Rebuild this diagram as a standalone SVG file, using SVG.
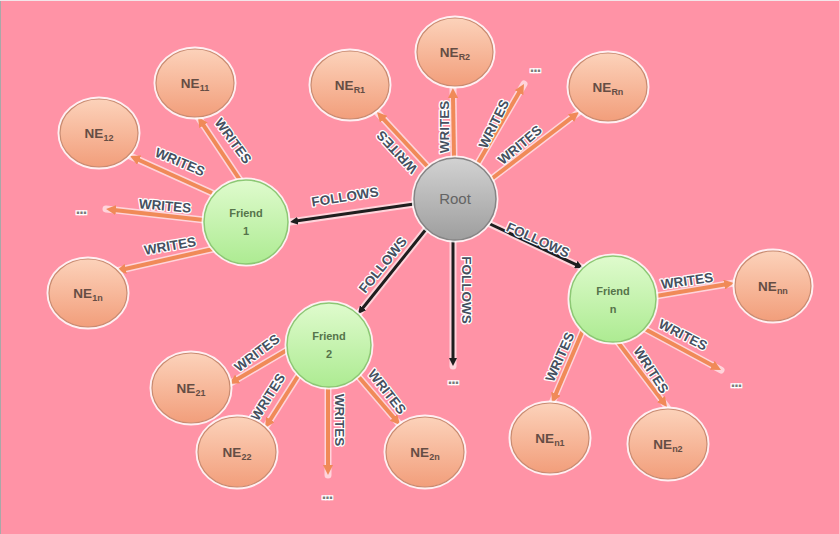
<svg xmlns="http://www.w3.org/2000/svg" width="839" height="534" viewBox="0 0 839 534">
<defs>
<linearGradient id="gNE" x1="0" y1="0" x2="0" y2="1"><stop offset="0" stop-color="#FCD2BA"/><stop offset="1" stop-color="#F29E7B"/></linearGradient>
<linearGradient id="gFr" x1="0" y1="0" x2="0" y2="1"><stop offset="0" stop-color="#DFFBCD"/><stop offset="1" stop-color="#ADEB92"/></linearGradient>
<linearGradient id="gRoot" x1="0" y1="0" x2="0" y2="1"><stop offset="0" stop-color="#D2D2D2"/><stop offset="1" stop-color="#9E9E9E"/></linearGradient>
<marker id="mO" viewBox="0 0 10 10" markerUnits="userSpaceOnUse" markerWidth="10" markerHeight="10" refX="2" refY="5" orient="auto"><path d="M0,0 L10,5 L0,10 z" fill="#F08A58"/></marker>
<marker id="mB" viewBox="0 0 8 8" markerUnits="userSpaceOnUse" markerWidth="8" markerHeight="8" refX="2" refY="4" orient="auto"><path d="M0,0 L8,4 L0,8 z" fill="#1E1E1E"/></marker>
<style>
.halo{fill:none;stroke:#fff;stroke-width:7;stroke-opacity:0.6;stroke-linecap:round}
.w{fill:none;stroke:#F08A58;stroke-width:4;marker-end:url(#mO)}
.f{fill:none;stroke:#1E1E1E;stroke-width:3;marker-end:url(#mB)}
.lbl{font-family:"Liberation Sans",Arial,sans-serif;font-weight:bold;font-size:13.5px;fill:#46505F;stroke:#fff;stroke-width:2.5px;paint-order:stroke;stroke-linejoin:round;text-anchor:middle;dominant-baseline:central}
.dots{font-family:"Liberation Sans",Arial,sans-serif;font-weight:bold;font-size:16px;fill:#7A7A7A;stroke:#fff;stroke-width:2.5px;paint-order:stroke;text-anchor:middle;letter-spacing:-1px}
.ring{fill:none;stroke:#fff;stroke-width:5;stroke-opacity:0.85}
.ne{fill:url(#gNE);stroke:#C98B70;stroke-width:1.2}
.fr{fill:url(#gFr);stroke:#8CC874;stroke-width:1.5}
.rt{fill:url(#gRoot);stroke:#858585;stroke-width:1.5}
.net{font-family:"Liberation Sans",Arial,sans-serif;font-size:13.5px;font-weight:bold;fill:#654D44;text-anchor:middle}
.sub{font-size:9px}
.frt{font-family:"Liberation Sans",Arial,sans-serif;font-size:11px;font-weight:bold;fill:#56744B;text-anchor:middle}
.rtt{font-family:"Liberation Sans",Arial,sans-serif;font-size:15px;fill:#646464;text-anchor:middle}
</style>
</defs>
<rect x="0" y="0" width="839" height="534" fill="#FF93A6"/>
<line x1="0.5" y1="0" x2="0.5" y2="534" stroke="#A8A8A8" stroke-width="1"/>
<line x1="0" y1="0.5" x2="839" y2="0.5" stroke="#F3E6EA" stroke-width="1"/>

<g id="connectors">
  <g id="halos">
    <line class="halo" x1="414" y1="204" x2="290" y2="222"/>
    <line class="halo" x1="427" y1="228" x2="358" y2="314"/>
    <line class="halo" x1="453" y1="240" x2="453" y2="366"/>
    <line class="halo" x1="490" y1="224" x2="583" y2="268"/>
    <line class="halo" x1="428" y1="167" x2="377" y2="112"/>
    <line class="halo" x1="454" y1="158" x2="453" y2="88"/>
    <line class="halo" x1="478" y1="163" x2="524" y2="84"/>
    <line class="halo" x1="490" y1="180" x2="579" y2="112"/>
    <line class="halo" x1="240" y1="180" x2="198" y2="117"/>
    <line class="halo" x1="212" y1="193" x2="130" y2="156"/>
    <line class="halo" x1="204" y1="220" x2="106" y2="209"/>
    <line class="halo" x1="213" y1="249" x2="116" y2="271"/>
    <line class="halo" x1="287" y1="350" x2="229" y2="384"/>
    <line class="halo" x1="298" y1="376" x2="265" y2="428"/>
    <line class="halo" x1="328" y1="387" x2="328" y2="475"/>
    <line class="halo" x1="358" y1="376" x2="400" y2="425"/>
    <line class="halo" x1="656" y1="296" x2="734" y2="283"/>
    <line class="halo" x1="643" y1="328" x2="721" y2="370"/>
    <line class="halo" x1="617" y1="341" x2="667" y2="407"/>
    <line class="halo" x1="583" y1="330" x2="552" y2="403"/>
  </g>
  <line class="f" x1="414" y1="204" x2="295.9" y2="221.1"/>
  <line class="f" x1="427" y1="228" x2="361.8" y2="309.3"/>
  <line class="f" x1="453" y1="240" x2="453" y2="360"/>
  <line class="f" x1="490" y1="224" x2="577.6" y2="265.4"/>
  <line class="w" x1="428" y1="167" x2="382.4" y2="117.9"/>
  <line class="w" x1="454" y1="158" x2="453" y2="96"/>
  <line class="w" x1="478" y1="163" x2="520" y2="90.9"/>
  <line class="w" x1="490" y1="180" x2="572.6" y2="116.9"/>
  <line class="w" x1="240" y1="180" x2="202.4" y2="123.7"/>
  <line class="w" x1="212" y1="193" x2="137.3" y2="159.3"/>
  <line class="w" x1="204" y1="220" x2="114" y2="209.9"/>
  <line class="w" x1="213" y1="249" x2="123.8" y2="269.2"/>
  <line class="w" x1="287" y1="350" x2="235.9" y2="380"/>
  <line class="w" x1="298" y1="376" x2="269.3" y2="421.2"/>
  <line class="w" x1="328" y1="387" x2="328" y2="467"/>
  <line class="w" x1="358" y1="376" x2="394.8" y2="418.9"/>
  <line class="w" x1="656" y1="296" x2="726.1" y2="284.3"/>
  <line class="w" x1="643" y1="328" x2="714" y2="366.2"/>
  <line class="w" x1="617" y1="341" x2="662.2" y2="400.6"/>
  <line class="w" x1="583" y1="330" x2="555.1" y2="395.6"/>
  <g id="edge-labels">
    <text class="lbl" transform="translate(345,197) rotate(-9)">FOLLOWS</text>
    <text class="lbl" transform="translate(383,265) rotate(-51)">FOLLOWS</text>
    <text class="lbl" transform="translate(466,290) rotate(90)">FOLLOWS</text>
    <text class="lbl" transform="translate(538,240) rotate(24)">FOLLOWS</text>
    <text class="lbl" transform="translate(233,141) rotate(54)">WRITES</text>
    <text class="lbl" transform="translate(180,162) rotate(23)">WRITES</text>
    <text class="lbl" transform="translate(165,206) rotate(5)">WRITES</text>
    <text class="lbl" transform="translate(170,246) rotate(-10)">WRITES</text>
    <text class="lbl" transform="translate(397,152) rotate(-133)">WRITES</text>
    <text class="lbl" transform="translate(444,127) rotate(-90)">WRITES</text>
    <text class="lbl" transform="translate(494,124) rotate(-64)">WRITES</text>
    <text class="lbl" transform="translate(520,145) rotate(-40)">WRITES</text>
    <text class="lbl" transform="translate(257,353) rotate(-37)">WRITES</text>
    <text class="lbl" transform="translate(268,397) rotate(-58)">WRITES</text>
    <text class="lbl" transform="translate(339,420) rotate(90)">WRITES</text>
    <text class="lbl" transform="translate(387,392) rotate(52)">WRITES</text>
    <text class="lbl" transform="translate(687,281) rotate(-8)">WRITES</text>
    <text class="lbl" transform="translate(683,335) rotate(27)">WRITES</text>
    <text class="lbl" transform="translate(651,370) rotate(57)">WRITES</text>
    <text class="lbl" transform="translate(560,357) rotate(-66)">WRITES</text>
  </g>
</g>

<g id="ellipsis-marks">
  <text class="dots" x="81" y="214">...</text>
  <text class="dots" x="535" y="72">...</text>
  <text class="dots" x="453" y="384">...</text>
  <text class="dots" x="327" y="499">...</text>
  <text class="dots" x="736" y="387">...</text>
</g>

<g id="root"><circle class="ring" cx="455" cy="199" r="41"/><circle class="rt" cx="455" cy="199" r="41"/><text class="rtt" x="455" y="204">Root</text></g>
<g id="friend1"><circle class="ring" cx="246" cy="222" r="42"/><circle class="fr" cx="246" cy="222" r="42"/><text class="frt" x="246" y="217">Friend</text><text class="frt" x="246" y="235">1</text></g>
<g id="friend2"><circle class="ring" cx="329" cy="345" r="42"/><circle class="fr" cx="329" cy="345" r="42"/><text class="frt" x="329" y="340">Friend</text><text class="frt" x="329" y="358">2</text></g>
<g id="friendn"><circle class="ring" cx="613" cy="299" r="43"/><circle class="fr" cx="613" cy="299" r="43"/><text class="frt" x="613" y="295">Friend</text><text class="frt" x="613" y="313">n</text></g>

<g id="ne11"><ellipse class="ring" cx="195" cy="83" rx="39" ry="34"/><ellipse class="ne" cx="195" cy="83" rx="39" ry="34"/><text class="net" x="195" y="88">NE<tspan class="sub" dy="3">11</tspan></text></g>
<g id="ne12"><ellipse class="ring" cx="99" cy="133" rx="39" ry="34"/><ellipse class="ne" cx="99" cy="133" rx="39" ry="34"/><text class="net" x="99" y="138">NE<tspan class="sub" dy="3">12</tspan></text></g>
<g id="ne1n"><ellipse class="ring" cx="88" cy="293" rx="39" ry="34"/><ellipse class="ne" cx="88" cy="293" rx="39" ry="34"/><text class="net" x="88" y="298">NE<tspan class="sub" dy="3">1n</tspan></text></g>
<g id="neR1"><ellipse class="ring" cx="350" cy="85" rx="39" ry="34"/><ellipse class="ne" cx="350" cy="85" rx="39" ry="34"/><text class="net" x="350" y="90">NE<tspan class="sub" dy="3">R1</tspan></text></g>
<g id="neR2"><ellipse class="ring" cx="455" cy="52" rx="38" ry="34"/><ellipse class="ne" cx="455" cy="52" rx="38" ry="34"/><text class="net" x="455" y="57">NE<tspan class="sub" dy="3">R2</tspan></text></g>
<g id="neRn"><ellipse class="ring" cx="608" cy="87" rx="39" ry="34"/><ellipse class="ne" cx="608" cy="87" rx="39" ry="34"/><text class="net" x="608" y="92">NE<tspan class="sub" dy="3">Rn</tspan></text></g>
<g id="ne21"><ellipse class="ring" cx="191" cy="388" rx="39" ry="35"/><ellipse class="ne" cx="191" cy="388" rx="39" ry="35"/><text class="net" x="191" y="393">NE<tspan class="sub" dy="3">21</tspan></text></g>
<g id="ne22"><ellipse class="ring" cx="237" cy="452" rx="39" ry="35"/><ellipse class="ne" cx="237" cy="452" rx="39" ry="35"/><text class="net" x="237" y="457">NE<tspan class="sub" dy="3">22</tspan></text></g>
<g id="ne2n"><ellipse class="ring" cx="425" cy="452" rx="39" ry="35"/><ellipse class="ne" cx="425" cy="452" rx="39" ry="35"/><text class="net" x="425" y="457">NE<tspan class="sub" dy="3">2n</tspan></text></g>
<g id="nen1"><ellipse class="ring" cx="550" cy="438" rx="39" ry="35"/><ellipse class="ne" cx="550" cy="438" rx="39" ry="35"/><text class="net" x="550" y="443">NE<tspan class="sub" dy="3">n1</tspan></text></g>
<g id="nen2"><ellipse class="ring" cx="668" cy="444" rx="39" ry="35"/><ellipse class="ne" cx="668" cy="444" rx="39" ry="35"/><text class="net" x="668" y="449">NE<tspan class="sub" dy="3">n2</tspan></text></g>
<g id="nenn"><ellipse class="ring" cx="773" cy="286" rx="38" ry="35"/><ellipse class="ne" cx="773" cy="286" rx="38" ry="35"/><text class="net" x="773" y="291">NE<tspan class="sub" dy="3">nn</tspan></text></g>
</svg>
